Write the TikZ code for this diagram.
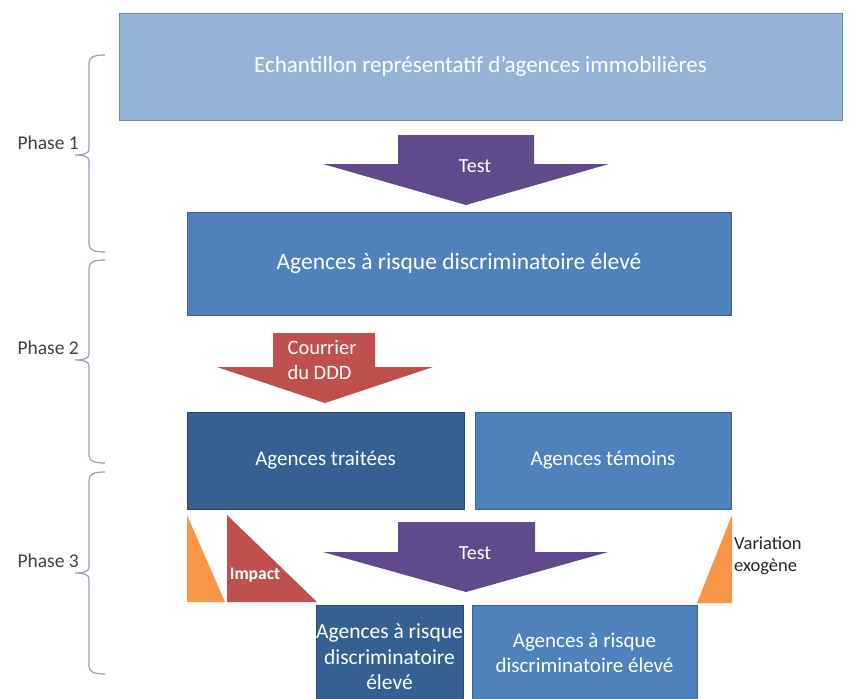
\documentclass[tikz,border=0pt]{standalone}
\usepackage{fontspec}
\setmainfont{Carlito}
\definecolor{lightblue}{HTML}{95B3D7}
\definecolor{midblue}{HTML}{4F81BD}
\definecolor{darkblue}{HTML}{366092}
\definecolor{purplearrow}{RGB}{96,74,139}
\definecolor{redarrow}{HTML}{C0504D}
\definecolor{orangetri}{HTML}{F79646}
\definecolor{bracecol}{HTML}{8EA2BE}
\definecolor{labelgray}{HTML}{404040}
\begin{document}
\begin{tikzpicture}[x=1pt,y=-1pt,
  box/.style={draw=#1!75!black, line width=0.8pt, fill=#1, text=white, inner sep=0pt, align=center},
  boxtext/.style={text=white, align=center, inner sep=0pt},
  phase/.style={text=labelgray, font=\fontsize{19.5}{23}\selectfont, anchor=east, inner sep=0pt},
  bracepath/.style={draw=bracecol, line width=1.2pt},
  arrowfill/.style={fill=#1, draw=none},
]
\useasboundingbox (0,0) rectangle (849,699);
\fill[white] (0,0) rectangle (849,699);

% boxes
\node[box=lightblue, minimum width=723pt, minimum height=107pt, font=\fontsize{23}{27}\selectfont] (sample) at (480.5,66.5) {Echantillon représentatif d’agences immobilières};
\node[box=midblue, minimum width=544pt, minimum height=103pt, font=\fontsize{23.5}{28}\selectfont] (risk) at (459,263.5) {Agences à risque discriminatoire élevé};
\node[box=darkblue, minimum width=277pt, minimum height=97pt, font=\fontsize{21}{25}\selectfont] (treated) at (325.5,460.5) {Agences traitées};
\node[box=midblue, minimum width=256pt, minimum height=97pt, font=\fontsize{21}{25}\selectfont] (control) at (603,460.5) {Agences témoins};
\node[box=darkblue, minimum width=147pt, minimum height=104pt] (risktreated) at (389.5,657) {};
\node[boxtext, font=\fontsize{21.5}{25.5}\selectfont] (risktreatedtext) at (389.5,657) {Agences à risque\\discriminatoire\\élevé};
\node[box=midblue, minimum width=225pt, minimum height=104pt] (riskcontrol) at (584.5,657) {};
\node[boxtext, font=\fontsize{21}{25}\selectfont] (riskcontroltext) at (584.5,652.5) {Agences à risque\\discriminatoire élevé};

% arrow 1 (Test)
\fill[arrowfill=purplearrow] (398,135) -- (534,135) -- (534,164) -- (609,164) -- (466,205) -- (323,164) -- (398,164) -- cycle;
\node[boxtext, font=\fontsize{20}{24}\selectfont] (test1) at (475,166) {Test};

% arrow 2 (Courrier)
\fill[arrowfill=redarrow] (273,333) -- (375,333) -- (375,367) -- (433,367) -- (325,403) -- (217,367) -- (273,367) -- cycle;
\node[boxtext, font=\fontsize{20.5}{25}\selectfont, align=left] (courrier) at (322,360.5) {Courrier\\du DDD};

% arrow 3 (Test)
\fill[arrowfill=purplearrow] (398,522) -- (535,522) -- (535,552) -- (608,552) -- (466,592) -- (323,552) -- (398,552) -- cycle;
\node[boxtext, font=\fontsize{20}{24}\selectfont] (test2) at (475,553) {Test};

% triangles
\fill[orangetri] (187,515) -- (187,602) -- (225,602) -- cycle;
\fill[redarrow] (227,515) -- (227,602) -- (317,602) -- cycle;
\node[boxtext, font=\bfseries\fontsize{17.5}{21}\selectfont] (impact) at (255,575) {Impact};
\fill[orangetri] (697,603) -- (732,603) -- (732,515) -- cycle;
\node[inner sep=0pt, anchor=west, align=left, text=black!85, font=\fontsize{18.5}{21.5}\selectfont] (variation) at (734,555.5) {Variation\\exogène};

% braces and phase labels
\foreach \T/\M/\B/\lab in {55/155/252/1, 260/360/463/2, 472/573/674/3}{
  \draw[bracepath] (105,\T) .. controls (94,\T) and (89,\T+2) .. (89,\T+8) -- (89,\M-6)
     .. controls (89,\M-2) and (85,\M) .. (75,\M)
     .. controls (85,\M) and (89,\M+2) .. (89,\M+6) -- (89,\B-8)
     .. controls (89,\B-2) and (94,\B) .. (105,\B);
  \node[phase] (phase\lab) at (79,\M-12) {Phase \lab};
}
\end{tikzpicture}
\end{document}
